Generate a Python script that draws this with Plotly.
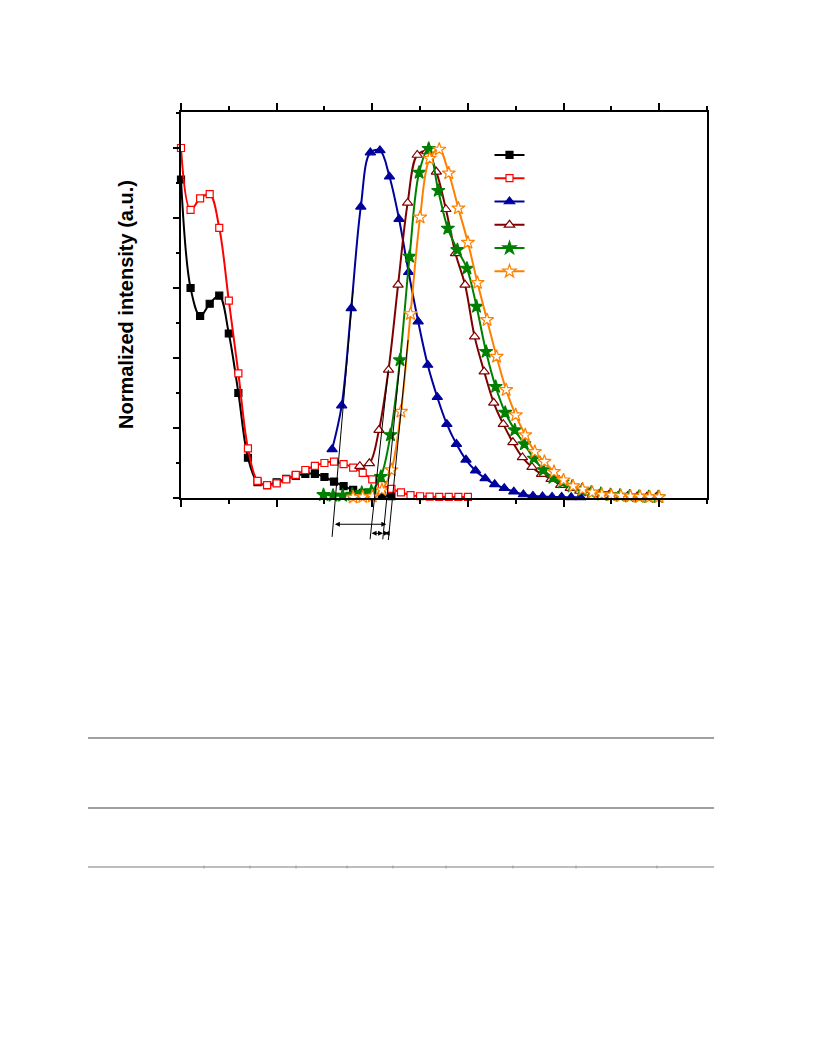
import plotly.graph_objects as go

# ---------------- data (wavelength nm, normalized intensity) ----------------
black_x = [300, 310, 320, 330, 340, 350, 360, 370, 380, 390, 400, 410, 420, 430,
           440, 450, 460, 470, 480, 490, 500, 510, 520]
black_y = [0.91, 0.60, 0.52, 0.555, 0.578, 0.47, 0.30, 0.115, 0.045, 0.037, 0.045,
           0.055, 0.063, 0.069, 0.069, 0.06, 0.047, 0.034, 0.023, 0.015, 0.01, 0.007, 0.005]

red_x = [300, 310, 320, 330, 340, 350, 360, 370, 380, 390, 400, 410, 420, 430, 440,
         450, 460, 470, 480, 490, 500, 510, 520, 530, 540, 550, 560, 570, 580, 590, 600]
red_y = [1.0, 0.823, 0.856, 0.868, 0.772, 0.564, 0.356, 0.142, 0.049, 0.037, 0.042,
         0.053, 0.066, 0.08, 0.092, 0.1, 0.104, 0.097, 0.087, 0.072, 0.053, 0.037,
         0.026, 0.016, 0.008, 0.005, 0.004, 0.003, 0.003, 0.003, 0.003]

blue_x = [458, 468, 478, 488, 498, 508, 518, 528, 538, 548, 558, 568, 578, 588, 598,
          608, 618, 628, 638, 648, 658, 668, 678, 688, 698, 708, 718]
blue_y = [0.139, 0.264, 0.542, 0.832, 0.987, 0.993, 0.918, 0.797, 0.645, 0.504, 0.38,
          0.288, 0.211, 0.154, 0.109, 0.078, 0.056, 0.039, 0.028, 0.018, 0.01, 0.006,
          0.004, 0.003, 0.003, 0.002, 0.002]

brown_x = [487, 497, 507, 517, 527, 537, 547, 557, 567, 577, 587, 597, 607, 617, 627,
           637, 647, 657, 667, 677, 687, 697, 707, 717, 727, 737, 747, 757, 767, 777,
           787, 797]
brown_y = [0.091, 0.099, 0.194, 0.366, 0.609, 0.843, 0.98, 0.99, 0.932, 0.825, 0.699,
           0.609, 0.461, 0.361, 0.272, 0.211, 0.159, 0.116, 0.088, 0.068, 0.054, 0.037,
           0.028, 0.02, 0.015, 0.011, 0.008, 0.006, 0.005, 0.004, 0.003, 0.003]

green_x = [449, 459, 469, 479, 489, 499, 509, 519, 529, 539, 549, 559, 569, 579, 589,
           599, 609, 619, 629, 639, 649, 659, 669, 679, 689, 699, 709, 719, 729, 739,
           749, 759, 769, 779, 789, 799]
green_y = [0.009, 0.007, 0.007, 0.01, 0.015, 0.02, 0.061, 0.18, 0.394, 0.69, 0.93,
           0.998, 0.878, 0.77, 0.709, 0.656, 0.547, 0.418, 0.318, 0.244, 0.194, 0.154,
           0.113, 0.08, 0.058, 0.045, 0.033, 0.022, 0.016, 0.012, 0.009, 0.007, 0.005,
           0.004, 0.003, 0.003]

orange_x = [480, 490, 500, 510, 520, 530, 540, 550, 560, 570, 580, 590, 600, 610, 620,
            630, 640, 650, 660, 670, 680, 690, 700, 710, 720, 730, 740, 750, 760, 770,
            780, 790, 800]
orange_y = [0.002, 0.003, 0.005, 0.023, 0.08, 0.247, 0.526, 0.802, 0.97, 0.996, 0.928,
            0.828, 0.73, 0.615, 0.509, 0.404, 0.309, 0.237, 0.18, 0.132, 0.104, 0.075,
            0.051, 0.034, 0.025, 0.016, 0.01, 0.008, 0.006, 0.005, 0.004, 0.003, 0.003]

# onset tangent lines (wavelength, intensity) pairs and gap arrows
tangent_lines = [
    ((479.9, 0.594), (458.0, -0.111)),
    ((516.8, 0.366), (497.7, -0.118)),
    ((529.1, 0.394), (511.0, -0.118)),
    ((537.4, 0.451), (516.8, -0.120)),
]
gap_arrows = [
    (459.3, 514.7, -0.075),
    (497.7, 511.3, -0.101),
    (511.3, 517.2, -0.101),
]

# ---------------- layout geometry (page pixels; the page body adds an 8px offset) ----------------
W, H = 816, 1056
OFF = 8
L, R, T, B = 181, 707, 112, 498          # plot frame as seen on the page
X_RANGE = [300, 850]
Y_RANGE = [0, (B - T) / 350.0]


def xp(v):
    return (v - X_RANGE[0]) / (X_RANGE[1] - X_RANGE[0])


def yp(v):
    return (v - Y_RANGE[0]) / (Y_RANGE[1] - Y_RANGE[0])


def px_x(p):
    return (p - L) / (R - L)


def px_y(p):
    return (B - p) / (B - T)


series = [
    (black_x, black_y, "#000000", "square", "#000000", 7),
    (red_x, red_y, "#FF0000", "square", "#FFFFFF", 7),
    (blue_x, blue_y, "#00009C", "triangle-up", "#00009C", 9),
    (brown_x, brown_y, "#800000", "triangle-up", "#FFFFFF", 9),
    (green_x, green_y, "#008000", "star", "#008000", 10),
    (orange_x, orange_y, "#FF8000", "star", "#FFFFFF", 10),
]

fig = go.Figure()
for i, (xs, ys, col, sym, fill, size) in enumerate(series):
    fig.add_trace(go.Scatter(
        x=xs, y=ys, mode="lines+markers", name=" ",
        line=dict(color=col, width=2, shape="spline"),
        marker=dict(symbol=sym, size=size, color=fill,
                    line=dict(color=col, width=1.2)),
        cliponaxis=False,
    ))

shapes = []
for (x0, y0), (x1, y1) in tangent_lines:
    shapes.append(dict(type="line", xref="paper", yref="paper",
                       x0=xp(x0), y0=yp(y0), x1=xp(x1), y1=yp(y1),
                       line=dict(color="#000000", width=1)))

# table rules below the chart
for ypix, col, wd in [(738, "#808080", 1.3), (808, "#808080", 1.3), (867, "#BDBDBD", 2.2)]:
    shapes.append(dict(type="line", xref="paper", yref="paper",
                       x0=px_x(88), x1=px_x(714), y0=px_y(ypix), y1=px_y(ypix),
                       line=dict(color=col, width=wd)))
for xpix in [204, 250, 296, 347, 393, 446, 513, 576, 657]:
    shapes.append(dict(type="line", xref="paper", yref="paper",
                       x0=px_x(xpix), x1=px_x(xpix), y0=px_y(865.5), y1=px_y(868.5),
                       line=dict(color="#999999", width=1)))

annotations = []
px_per_nm = (R - L) / (X_RANGE[1] - X_RANGE[0])
for xa, xb, yv in gap_arrows:
    annotations.append(dict(
        xref="paper", yref="paper", x=xp(xb), y=yp(yv), text="",
        showarrow=True, ax=-(xb - xa) * px_per_nm, ay=0,
        arrowhead=2, arrowsize=1, arrowwidth=1, arrowcolor="#000000",
        arrowside="end+start", standoff=0, startstandoff=0,
    ))

annotations.append(dict(
    xref="paper", yref="paper", x=px_x(126), y=0.5,
    text="<b>Normalized intensity (a.u.)</b>", textangle=-90, showarrow=False,
    xanchor="center", yanchor="middle",
    font=dict(family="Liberation Sans, Arial, sans-serif", size=20, color="#000000"),
))

fig.update_layout(
    width=W, height=H,
    margin=dict(l=L - OFF, r=W - R + OFF, t=T - OFF, b=H - B + OFF, autoexpand=False),
    paper_bgcolor="white", plot_bgcolor="white",
    showlegend=True,
    legend=dict(x=px_x(489.5), y=px_y(138.3), xanchor="left", yanchor="top",
                bgcolor="rgba(0,0,0,0)", borderwidth=0,
                font=dict(size=15.6, family="Liberation Sans")),
    shapes=shapes, annotations=annotations,
)

fig.update_xaxes(
    range=X_RANGE, showgrid=False, zeroline=False, showticklabels=False,
    showline=True, linecolor="#000000", linewidth=2, mirror="ticks",
    ticks="outside", tick0=300, dtick=100, ticklen=7, tickwidth=1.5, tickcolor="#000000",
    minor=dict(ticks="outside", dtick=50, tick0=300, ticklen=4, tickwidth=1.5,
               tickcolor="#000000", showgrid=False),
)
fig.update_yaxes(
    range=Y_RANGE, showgrid=False, zeroline=False, showticklabels=False,
    showline=True, linecolor="#000000", linewidth=2, mirror=True,
    ticks="outside", tick0=0, dtick=0.2, ticklen=6, tickwidth=1.5, tickcolor="#000000",
    minor=dict(ticks="outside", dtick=0.1, tick0=0, ticklen=3, tickwidth=1.5,
               tickcolor="#000000", showgrid=False),
)

fig.write_html("out.html")
